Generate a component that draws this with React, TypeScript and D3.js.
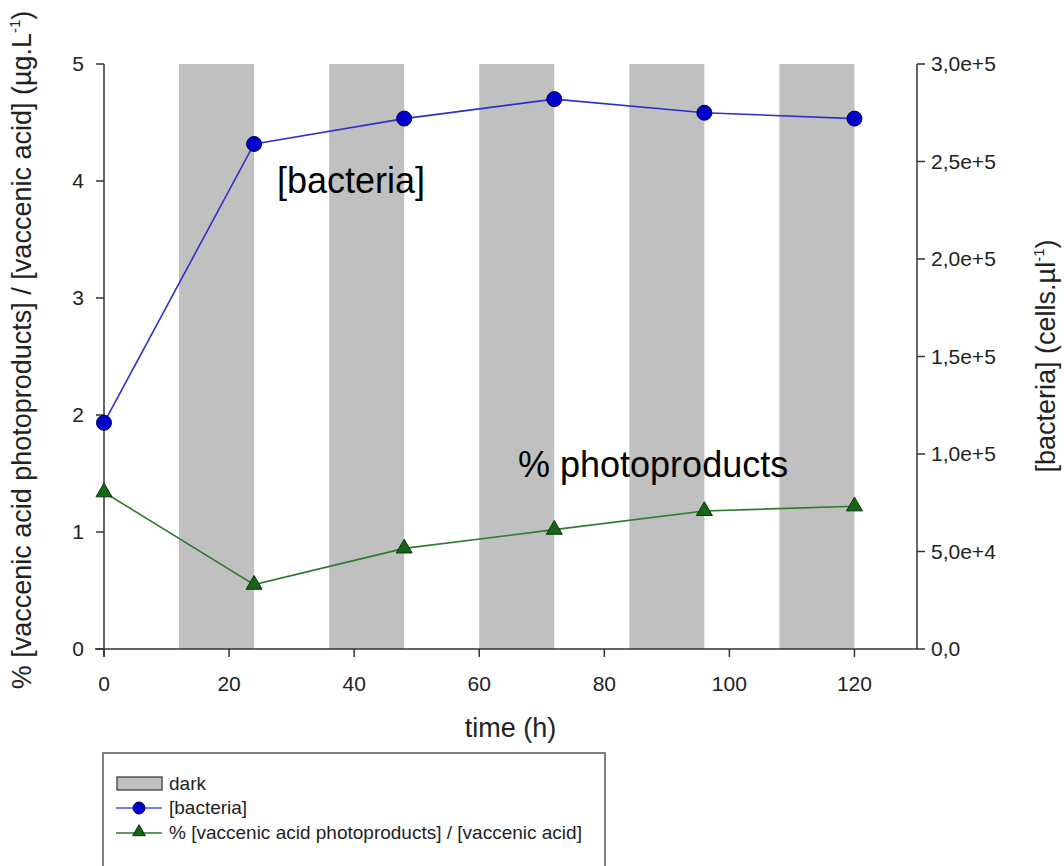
import React from 'react';
import * as d3 from 'd3';

// sampling times (h)
const times = [0, 24, 48, 72, 96, 120];
// [bacteria] in cells.µl-1 (right axis)
const bacteria = [116000, 259000, 272000, 282000, 275000, 272000];
// % photoproducts / vaccenic acid (left axis)
const photoproducts = [1.34, 0.55, 0.86, 1.02, 1.18, 1.22];
// dark periods
const darkStart = [12, 36, 60, 84, 108];
const darkEnd = [24, 48, 72, 96, 120];
// ticks
const xTicks = [0, 20, 40, 60, 80, 100, 120];
const leftTicks = [0, 1, 2, 3, 4, 5];
const rightTicks = [0, 50000, 100000, 150000, 200000, 250000, 300000];

const FONT = '"Liberation Sans", Arial, Helvetica, sans-serif';
const AXIS = '#333';
const TXT = '#222';

const fmtRight = (v: number) => (v === 0 ? '0,0' : d3.format('.1e')(v).replace('.', ','));

const App = () => {
  const W = 1064;
  const H = 866;
  const left = 104;
  const right = 917;
  const top = 64;
  const bottom = 649;

  const x = d3.scaleLinear().domain([0, 130]).range([left, right]);
  const yL = d3.scaleLinear().domain([0, 5]).range([bottom, top]);
  const yR = d3.scaleLinear().domain([0, 300000]).range([bottom, top]);

  const bactLine = d3.line<number>()
    .x((d, i) => x(times[i]))
    .y(d => yR(d))(bacteria) as string;
  const photoLine = d3.line<number>()
    .x((d, i) => x(times[i]))
    .y(d => yL(d))(photoproducts) as string;

  const tri = d3.symbol().type(d3.symbolTriangle).size(110)() as string;
  const triSmall = d3.symbol().type(d3.symbolTriangle).size(70)() as string;

  const tickLen = 8;

  return (
    <svg width={W} height={H} style={{ position: 'absolute', left: 0, top: 0, background: '#fff' }}
      fontFamily={FONT}>
      {/* dark bands */}
      {darkStart.map((s, i) => (
        <rect key={'d' + i} x={x(s)} y={top} width={x(darkEnd[i]) - x(s)} height={bottom - top} fill="#c0c0c0" />
      ))}

      {/* x axis */}
      <line x1={left - 9} x2={right} y1={bottom} y2={bottom} stroke={AXIS} strokeWidth={1.5} />
      {xTicks.map(t => (
        <g key={'x' + t}>
          <line x1={x(t)} x2={x(t)} y1={bottom} y2={bottom + tickLen} stroke={AXIS} strokeWidth={1.5} />
          <text x={x(t)} y={691} textAnchor="middle" fontSize={21} fill={TXT}>{t}</text>
        </g>
      ))}
      <text x={(left + right) / 2} y={737} textAnchor="middle" fontSize={27} fill={TXT}>time (h)</text>

      {/* left axis */}
      <line x1={left} x2={left} y1={top} y2={bottom + tickLen} stroke={AXIS} strokeWidth={1.5} />
      {leftTicks.map(t => (
        <g key={'l' + t}>
          <line x1={left - tickLen} x2={left} y1={yL(t)} y2={yL(t)} stroke={AXIS} strokeWidth={1.5} />
          <text x={left - 20} y={yL(t) + 7} textAnchor="end" fontSize={21} fill={TXT}>{t}</text>
        </g>
      ))}
      <text transform={`translate(31, 350) rotate(-90)`} textAnchor="middle" fontSize={27} fill={TXT}>
        % [vaccenic acid photoproducts] / [vaccenic acid] (µg.L
        <tspan fontSize={15} dy={-11}>-1</tspan>
        <tspan dy={11}>)</tspan>
      </text>

      {/* right axis */}
      <line x1={right} x2={right} y1={top} y2={bottom} stroke={AXIS} strokeWidth={1.5} />
      {rightTicks.map(t => (
        <g key={'r' + t}>
          <line x1={right} x2={right + tickLen} y1={yR(t)} y2={yR(t)} stroke={AXIS} strokeWidth={1.5} />
          <text x={right + 14} y={yR(t) + 7} textAnchor="start" fontSize={21} fill={TXT}>{fmtRight(t)}</text>
        </g>
      ))}
      <text transform={`translate(1055, 356) rotate(-90)`} textAnchor="middle" fontSize={27} fill={TXT}>
        [bacteria] (cells.µl
        <tspan fontSize={15} dy={-11}>-1</tspan>
        <tspan dy={11}>)</tspan>
      </text>

      {/* series */}
      <path d={bactLine} fill="none" stroke="#2f2fc8" strokeWidth={1.6} />
      {bacteria.map((v, i) => (
        <circle key={'b' + i} cx={x(times[i])} cy={yR(v)} r={7.5} fill="#0000cc" stroke="#00004d" strokeWidth={1} />
      ))}
      <path d={photoLine} fill="none" stroke="#2e7a2e" strokeWidth={1.6} />
      {photoproducts.map((v, i) => (
        <path key={'p' + i} d={tri} transform={`translate(${x(times[i])},${yL(v)})`} fill="#176617" stroke="#0b330b" strokeWidth={1} />
      ))}

      {/* annotations */}
      <text x={277} y={193} fontSize={36} fill="#000">[bacteria]</text>
      <text x={518} y={477} fontSize={36} fill="#000">% photoproducts</text>

      {/* legend */}
      <rect x={103} y={753} width={502} height={130} fill="#fff" stroke="#555" strokeWidth={1.5} />
      <rect x={117} y={777} width={45} height={13} fill="#c0c0c0" stroke="#555" strokeWidth={1.5} />
      <text x={169} y={790} fontSize={19} fill={TXT}>dark</text>
      <line x1={116} x2={162} y1={808} y2={808} stroke="#5050e0" strokeWidth={1.5} />
      <circle cx={139} cy={808} r={6} fill="#0000cc" stroke="#00004d" strokeWidth={1} />
      <text x={169} y={814} fontSize={19} fill={TXT}>[bacteria]</text>
      <line x1={116} x2={162} y1={833} y2={833} stroke="#2e7a2e" strokeWidth={1.5} />
      <path d={triSmall} transform="translate(139,832)" fill="#176617" stroke="#0b330b" strokeWidth={1} />
      <text x={169} y={839} fontSize={19} fill={TXT}>% [vaccenic acid photoproducts] / [vaccenic acid]</text>
    </svg>
  );
};

export default App;
